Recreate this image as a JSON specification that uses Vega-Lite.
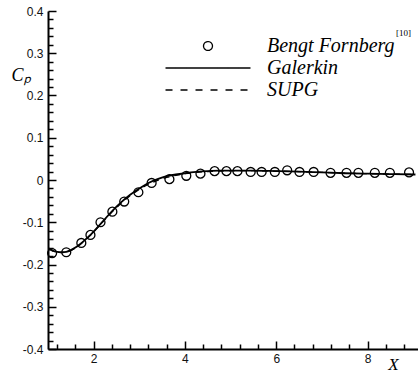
{
  "$schema": "https://vega.github.io/schema/vega-lite/v6.json",
  "autosize": "none",
  "padding": {"left": 48, "top": 11, "right": 0, "bottom": 23},
  "width": 372,
  "height": 338,
  "background": "white",
  "config": {
    "view": {"stroke": null},
    "axis": {
      "domainColor": "black", "domainWidth": 2, "tickColor": "black", "tickWidth": 1.5,
      "grid": false, "labelFont": "Liberation Sans", "labelFontSize": 12, "labelColor": "#111",
      "labelOverlap": false, "labelFlush": false
    }
  },
  "data": {"values": [
    {"series": "Bengt Fornberg", "x": 1.09, "cp": -0.173},
    {"series": "Bengt Fornberg", "x": 1.40, "cp": -0.171},
    {"series": "Bengt Fornberg", "x": 1.73, "cp": -0.149},
    {"series": "Bengt Fornberg", "x": 1.93, "cp": -0.130},
    {"series": "Bengt Fornberg", "x": 2.15, "cp": -0.100},
    {"series": "Bengt Fornberg", "x": 2.41, "cp": -0.075},
    {"series": "Bengt Fornberg", "x": 2.67, "cp": -0.051},
    {"series": "Bengt Fornberg", "x": 2.98, "cp": -0.029},
    {"series": "Bengt Fornberg", "x": 3.27, "cp": -0.007},
    {"series": "Bengt Fornberg", "x": 3.66, "cp": 0.002},
    {"series": "Bengt Fornberg", "x": 4.03, "cp": 0.010},
    {"series": "Bengt Fornberg", "x": 4.34, "cp": 0.015},
    {"series": "Bengt Fornberg", "x": 4.65, "cp": 0.021},
    {"series": "Bengt Fornberg", "x": 4.91, "cp": 0.021},
    {"series": "Bengt Fornberg", "x": 5.15, "cp": 0.021},
    {"series": "Bengt Fornberg", "x": 5.44, "cp": 0.019},
    {"series": "Bengt Fornberg", "x": 5.68, "cp": 0.019},
    {"series": "Bengt Fornberg", "x": 5.97, "cp": 0.019},
    {"series": "Bengt Fornberg", "x": 6.24, "cp": 0.023},
    {"series": "Bengt Fornberg", "x": 6.51, "cp": 0.019},
    {"series": "Bengt Fornberg", "x": 6.82, "cp": 0.019},
    {"series": "Bengt Fornberg", "x": 7.19, "cp": 0.017},
    {"series": "Bengt Fornberg", "x": 7.54, "cp": 0.017},
    {"series": "Bengt Fornberg", "x": 7.80, "cp": 0.017},
    {"series": "Bengt Fornberg", "x": 8.16, "cp": 0.017},
    {"series": "Bengt Fornberg", "x": 8.49, "cp": 0.017},
    {"series": "Bengt Fornberg", "x": 8.91, "cp": 0.018},

    {"series": "Galerkin", "x": 1.0, "cp": -0.161},
    {"series": "Galerkin", "x": 1.1, "cp": -0.167},
    {"series": "Galerkin", "x": 1.2, "cp": -0.170},
    {"series": "Galerkin", "x": 1.3, "cp": -0.171},
    {"series": "Galerkin", "x": 1.4, "cp": -0.170},
    {"series": "Galerkin", "x": 1.5, "cp": -0.166},
    {"series": "Galerkin", "x": 1.6, "cp": -0.160},
    {"series": "Galerkin", "x": 1.7, "cp": -0.152},
    {"series": "Galerkin", "x": 1.8, "cp": -0.143},
    {"series": "Galerkin", "x": 1.9, "cp": -0.133},
    {"series": "Galerkin", "x": 2.0, "cp": -0.122},
    {"series": "Galerkin", "x": 2.2, "cp": -0.098},
    {"series": "Galerkin", "x": 2.4, "cp": -0.074},
    {"series": "Galerkin", "x": 2.6, "cp": -0.053},
    {"series": "Galerkin", "x": 2.8, "cp": -0.035},
    {"series": "Galerkin", "x": 3.0, "cp": -0.020},
    {"series": "Galerkin", "x": 3.2, "cp": -0.007},
    {"series": "Galerkin", "x": 3.4, "cp": 0.002},
    {"series": "Galerkin", "x": 3.6, "cp": 0.009},
    {"series": "Galerkin", "x": 3.8, "cp": 0.013},
    {"series": "Galerkin", "x": 4.0, "cp": 0.016},
    {"series": "Galerkin", "x": 4.25, "cp": 0.019},
    {"series": "Galerkin", "x": 4.5, "cp": 0.021},
    {"series": "Galerkin", "x": 4.75, "cp": 0.022},
    {"series": "Galerkin", "x": 5.0, "cp": 0.022},
    {"series": "Galerkin", "x": 5.5, "cp": 0.022},
    {"series": "Galerkin", "x": 6.0, "cp": 0.021},
    {"series": "Galerkin", "x": 6.5, "cp": 0.020},
    {"series": "Galerkin", "x": 7.0, "cp": 0.018},
    {"series": "Galerkin", "x": 7.5, "cp": 0.016},
    {"series": "Galerkin", "x": 8.0, "cp": 0.015},
    {"series": "Galerkin", "x": 8.5, "cp": 0.014},
    {"series": "Galerkin", "x": 9.05, "cp": 0.013},

    {"series": "SUPG", "x": 1.0, "cp": -0.162},
    {"series": "SUPG", "x": 1.1, "cp": -0.168},
    {"series": "SUPG", "x": 1.2, "cp": -0.171},
    {"series": "SUPG", "x": 1.3, "cp": -0.172},
    {"series": "SUPG", "x": 1.4, "cp": -0.171},
    {"series": "SUPG", "x": 1.5, "cp": -0.167},
    {"series": "SUPG", "x": 1.6, "cp": -0.161},
    {"series": "SUPG", "x": 1.7, "cp": -0.153},
    {"series": "SUPG", "x": 1.8, "cp": -0.144},
    {"series": "SUPG", "x": 1.9, "cp": -0.134},
    {"series": "SUPG", "x": 2.0, "cp": -0.123},
    {"series": "SUPG", "x": 2.2, "cp": -0.099},
    {"series": "SUPG", "x": 2.4, "cp": -0.076},
    {"series": "SUPG", "x": 2.6, "cp": -0.055},
    {"series": "SUPG", "x": 2.8, "cp": -0.037},
    {"series": "SUPG", "x": 3.0, "cp": -0.022},
    {"series": "SUPG", "x": 3.2, "cp": -0.010},
    {"series": "SUPG", "x": 3.4, "cp": -0.001},
    {"series": "SUPG", "x": 3.6, "cp": 0.006},
    {"series": "SUPG", "x": 3.8, "cp": 0.011},
    {"series": "SUPG", "x": 4.0, "cp": 0.015},
    {"series": "SUPG", "x": 4.25, "cp": 0.018},
    {"series": "SUPG", "x": 4.5, "cp": 0.020},
    {"series": "SUPG", "x": 4.75, "cp": 0.021},
    {"series": "SUPG", "x": 5.0, "cp": 0.022},
    {"series": "SUPG", "x": 5.5, "cp": 0.022},
    {"series": "SUPG", "x": 6.0, "cp": 0.021},
    {"series": "SUPG", "x": 6.5, "cp": 0.020},
    {"series": "SUPG", "x": 7.0, "cp": 0.018},
    {"series": "SUPG", "x": 7.5, "cp": 0.016},
    {"series": "SUPG", "x": 8.0, "cp": 0.015},
    {"series": "SUPG", "x": 8.5, "cp": 0.014},
    {"series": "SUPG", "x": 9.05, "cp": 0.013}
  ]},
  "encoding": {
    "x": {
      "field": "x", "type": "quantitative",
      "scale": {"domain": [1, 9.15], "nice": false, "zero": false},
      "axis": {
        "values": [1.2, 1.6, 2, 2.4, 2.8, 3.2, 3.6, 4, 4.4, 4.8, 5.2, 5.6, 6, 6.4, 6.8, 7.2, 7.6, 8, 8.4, 8.8],
        "labelExpr": "abs(datum.value - round(datum.value/2)*2) < 0.001 ? '' + round(datum.value) : ''",
        "tickSize": {"condition": {"test": "abs(datum.value - round(datum.value/2)*2) < 0.001", "value": -8}, "value": -5},
        "labelPadding": 12,
        "title": "X",
        "titleFont": "Liberation Serif", "titleFontStyle": "italic", "titleFontWeight": "normal", "titleFontSize": 17,
        "titleX": 345, "titleY": 20, "titleAlign": "center", "titleBaseline": "alphabetic"
      }
    },
    "y": {
      "field": "cp", "type": "quantitative",
      "scale": {"domain": [-0.4, 0.4], "nice": false, "zero": false},
      "axis": {
        "values": [-0.4, -0.38, -0.36, -0.34, -0.32, -0.3, -0.28, -0.26, -0.24, -0.22, -0.2, -0.18, -0.16, -0.14, -0.12, -0.1, -0.08, -0.06, -0.04, -0.02, 0, 0.02, 0.04, 0.06, 0.08, 0.1, 0.12, 0.14, 0.16, 0.18, 0.2, 0.22, 0.24, 0.26, 0.28, 0.3, 0.32, 0.34, 0.36, 0.38, 0.4],
        "labelExpr": "abs(datum.value*10 - round(datum.value*10)) < 0.001 ? '' + round(datum.value*10)/10 : ''",
        "tickSize": {"condition": {"test": "abs(datum.value*10 - round(datum.value*10)) < 0.001", "value": -8}, "value": -5},
        "labelPadding": 13,
        "title": "Cₚ",
        "titleAngle": 0,
        "titleFont": "Liberation Serif", "titleFontStyle": "italic", "titleFontWeight": "normal", "titleFontSize": 18,
        "titleX": -37, "titleY": 69, "titleAlign": "left", "titleBaseline": "alphabetic"
      }
    },
    "color": {
      "field": "series", "type": "nominal",
      "scale": {"domain": ["Bengt Fornberg", "Galerkin", "SUPG"], "range": ["black", "black", "black"]},
      "legend": {
        "orient": "none", "legendX": 150, "legendY": 25,
        "title": "[10]", "titleOrient": "right", "titleAnchor": "start",
        "titleFont": "Liberation Serif", "titleFontSize": 9, "titleFontWeight": "normal", "titlePadding": 1,
        "titleBaseline": "alphabetic",
        "padding": 0, "rowPadding": 2,
        "symbolType": "circle", "symbolSize": 80, "symbolStrokeWidth": 1.3,
        "labelFont": "Liberation Serif", "labelFontStyle": "italic", "labelFontSize": 20, "labelColor": "black",
        "labelOffset": 49, "labelLimit": 300,
        "encode": {
          "symbols": {"update": {
            "shape": {"signal": "datum.value === 'Bengt Fornberg' ? 'circle' : 'M-9.5,0L9.5,0'"},
            "strokeDash": {"signal": "datum.value === 'SUPG' ? [7, 8] : [1, 0]"},
            "fill": {"value": "transparent"},
            "stroke": {"value": "black"},
            "strokeWidth": {"value": 1.3},
            "opacity": {"value": 1}
          }}
        }
      }
    }
  },
  "layer": [
    {
      "transform": [{"filter": "datum.series === 'SUPG'"}],
      "mark": {"type": "line", "strokeWidth": 1.3, "strokeDash": [6, 5], "clip": true}
    },
    {
      "transform": [{"filter": "datum.series === 'Galerkin'"}],
      "mark": {"type": "line", "strokeWidth": 1.8, "interpolate": "monotone", "clip": true}
    },
    {
      "transform": [{"filter": "datum.series === 'Bengt Fornberg'"}],
      "mark": {"type": "point", "shape": "circle", "filled": false, "size": 80, "strokeWidth": 1.3, "opacity": 1}
    }
  ]
}
